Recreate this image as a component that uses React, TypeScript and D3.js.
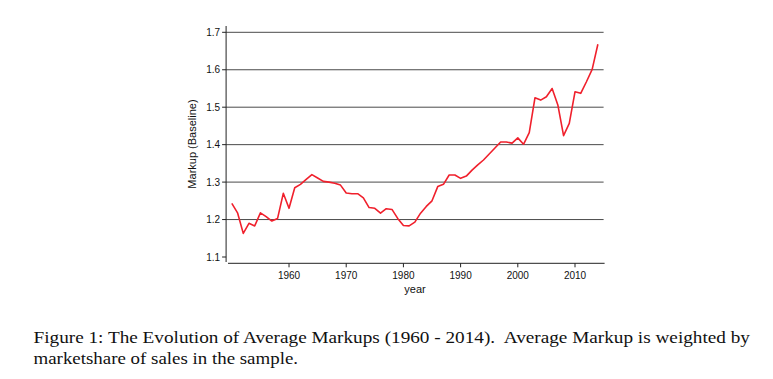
import React from "react";
import * as d3 from "d3";

const years: number[] = d3.range(1950, 2015);
const markup: number[] = [
  1.243, 1.218, 1.163, 1.19, 1.183, 1.218, 1.208, 1.196, 1.203, 1.27,
  1.23, 1.285, 1.294, 1.307, 1.32, 1.311, 1.302, 1.3, 1.297, 1.292,
  1.271, 1.269, 1.269, 1.258, 1.232, 1.23, 1.217, 1.229, 1.227, 1.203,
  1.184, 1.183, 1.193, 1.217, 1.235, 1.25, 1.288, 1.294, 1.319, 1.319,
  1.31, 1.316, 1.332, 1.346, 1.359, 1.375, 1.391, 1.407, 1.407, 1.404,
  1.418, 1.401, 1.432, 1.525, 1.519, 1.528, 1.55, 1.506, 1.424, 1.457,
  1.541, 1.537, 1.568, 1.601, 1.668,
];
const xTicks: number[] = [1960, 1970, 1980, 1990, 2000, 2010];
const yTicks: number[] = [1.1, 1.2, 1.3, 1.4, 1.5, 1.6, 1.7];
const gridTicks: number[] = [1.2, 1.3, 1.4, 1.5, 1.6, 1.7];
const yTitle = "Markup (Baseline)";
const xTitle = "year";
const caption1 =
  "Figure 1: The Evolution of Average Markups (1960 - 2014).  Average Markup is weighted by";
const caption2 = "marketshare of sales in the sample.";

export default function App() {
  const x = d3.scaleLinear().domain([1949, 2015]).range([226.1, 603.6]);
  const y = d3.scaleLinear().domain([1.1, 1.7]).range([257, 32.3]);
  const data = years.map((yr, i) => ({ yr, v: markup[i] }));
  const line = d3
    .line<{ yr: number; v: number }>()
    .x((d) => x(d.yr))
    .y((d) => y(d.v));
  const sans = "'Liberation Sans', Arial, Helvetica, sans-serif";
  const axisY = 263.3;
  return (
    <svg
      width={773}
      height={379}
      style={{ position: "absolute", left: 0, top: 0, background: "#fff" }}
    >
      <rect width={773} height={379} fill="#fff" />
      {gridTicks.map((t) => (
        <line
          key={"g" + t}
          x1={x(1949)}
          x2={x(2015)}
          y1={y(t)}
          y2={y(t)}
          stroke="#4a4a4a"
          strokeWidth={1}
        />
      ))}
      {/* y axis */}
      <line x1={x(1949)} x2={x(1949)} y1={26} y2={262} stroke="#222" strokeWidth={1} />
      {yTicks.map((t) => (
        <g key={"y" + t}>
          <line x1={x(1949) - 4} x2={x(1949)} y1={y(t)} y2={y(t)} stroke="#222" />
          <text
            x={x(1949) - 6}
            y={y(t)}
            dy="0.35em"
            textAnchor="end"
            fontFamily={sans}
            fontSize={10}
            fill="#111"
          >
            {t.toFixed(1)}
          </text>
        </g>
      ))}
      {/* x axis */}
      <line x1={228} x2={x(2015) + 1} y1={axisY} y2={axisY} stroke="#222" strokeWidth={1} />
      {xTicks.map((t) => (
        <g key={"x" + t}>
          <line x1={x(t)} x2={x(t)} y1={axisY} y2={axisY + 4} stroke="#222" />
          <text
            x={x(t)}
            y={278.5}
            textAnchor="middle"
            fontFamily={sans}
            fontSize={10}
            fill="#111"
          >
            {t}
          </text>
        </g>
      ))}
      <text
        x={415}
        y={293}
        textAnchor="middle"
        fontFamily={sans}
        fontSize={11}
        fill="#111"
      >
        {xTitle}
      </text>
      <text
        transform={`translate(196,144) rotate(-90)`}
        textAnchor="middle"
        fontFamily={sans}
        fontSize={11}
        fill="#111"
      >
        {yTitle}
      </text>
      <path
        d={line(data) || ""}
        fill="none"
        stroke="#f0202c"
        strokeWidth={1.6}
        strokeLinejoin="round"
      />
      <text
        x={33.5}
        y={343}
        fontFamily="'Liberation Serif', 'Times New Roman', serif"
        fontSize={16.5}
        fill="#111"
        textLength={716.5}
        lengthAdjust="spacingAndGlyphs"
        style={{ whiteSpace: "pre" }}
      >
        {caption1}
      </text>
      <text
        x={33.5}
        y={364}
        fontFamily="'Liberation Serif', 'Times New Roman', serif"
        fontSize={16.5}
        fill="#111"
        textLength={264.5}
        lengthAdjust="spacingAndGlyphs"
      >
        {caption2}
      </text>
    </svg>
  );
}
